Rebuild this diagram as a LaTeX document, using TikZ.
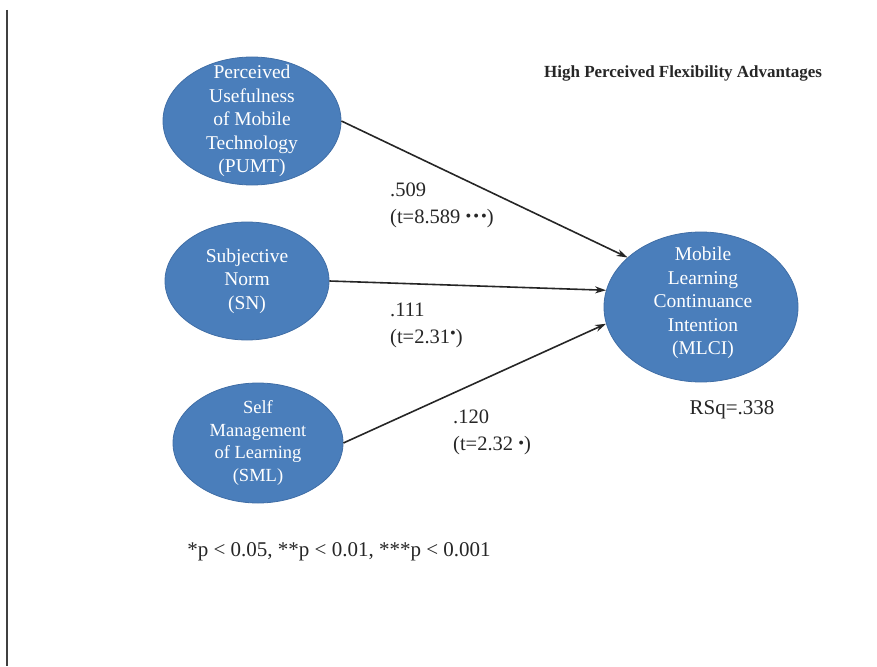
\documentclass[tikz,border=0pt]{standalone}
\usepackage{fontspec}
\setmainfont{Liberation Serif}
\usepackage{tikz}
\usetikzlibrary{arrows.meta, positioning, shapes.geometric}
\usepackage{xcolor}
\definecolor{constructblue}{RGB}{74,126,187}
\definecolor{constructedge}{RGB}{64,110,166}
\tikzset{%
	every construct/.style={
		ellipse,
		fill=constructblue,
		draw=constructedge,
		line width=0.8pt,
		inner sep=0pt
	},
	construct text/.style={
		text=white,
		align=center,
		inner sep=0pt,
		font=\fontsize{19.5}{23.5}\selectfont
	},
	path coef/.style={
		draw=black!85,
		line width=1.6pt,
		-{Stealth[length=11pt,width=7pt]}
	},
	coef label/.style={
		anchor=west,
		align=left,
		inner sep=0pt,
		text=black!85,
		font=\fontsize{20.5}{27}\selectfont
	},
}

\begin{document}
\begin{tikzpicture}[x=1pt,y=-1pt]
	% Keep the page at the size of the figure
	\useasboundingbox (0,0) rectangle (877,666);
	\newcommand{\sigdot}{\raisebox{1.5pt}{\scalebox{0.8}{\textbullet}}}
	\newcommand{\sigup}{\raisebox{5pt}{\scalebox{0.8}{\textbullet}}}
	
	% Rule on the left margin
	\draw[line width=2pt, black!75] (7,10) -- (7,666);
	
	% Draw the constructs
	\node[every construct, minimum width=178pt, minimum height=128pt] (pumt) at (252,121) {};
	\node[construct text] (pumt text) at (pumt) {Perceived\\Usefulness\\of Mobile\\Technology\\(PUMT)};
	
	\node[every construct, minimum width=164pt, minimum height=118pt] (sn) at (247,281) {};
	\node[construct text] (sn text) at (sn) {Subjective\\Norm\\(SN)};
	
	\node[every construct, minimum width=170pt, minimum height=120pt] (sml) at (258,443) {};
	\node[construct text, font=\fontsize{18.5}{22.5}\selectfont] (sml text) at (sml) {Self\\Management\\of Learning\\(SML)};
	
	\node[every construct, minimum width=194pt, minimum height=150pt] (mlci) at (701,307) {};
	\node[construct text] (mlci text) at (703,303) {Mobile\\Learning\\Continuance\\Intention\\(MLCI)};
	
	% Paths into the outcome
	\foreach \src/\ang in {pumt/146, sn/170, sml/190} {
		\draw[path coef] (\src.east) -- (mlci.\ang);
	}
	
	% Coefficients
	\node[coef label] (pumt coef) at (390,205) {.509\\(t=8.589 \sigdot\kern2pt\sigdot\kern2pt\sigdot)};
	\node[coef label] (sn coef) at (390,325) {.111\\(t=2.31\sigup)};
	\node[coef label] (sml coef) at (453,432) {.120\\(t=2.32 \sigdot)};
	
	% Title, fit and note
	\node[font=\bfseries\fontsize{17}{20}\selectfont, text=black!85] (title) at (683,73) {High Perceived Flexibility Advantages};
	\node[font=\fontsize{21}{24}\selectfont, text=black!85] (rsq) at (732,410) {RSq=.338};
	\node[font=\fontsize{21}{24}\selectfont, text=black!85] (note) at (339,552) {*p < 0.05, **p < 0.01, ***p < 0.001};
	
\end{tikzpicture}
\end{document}
